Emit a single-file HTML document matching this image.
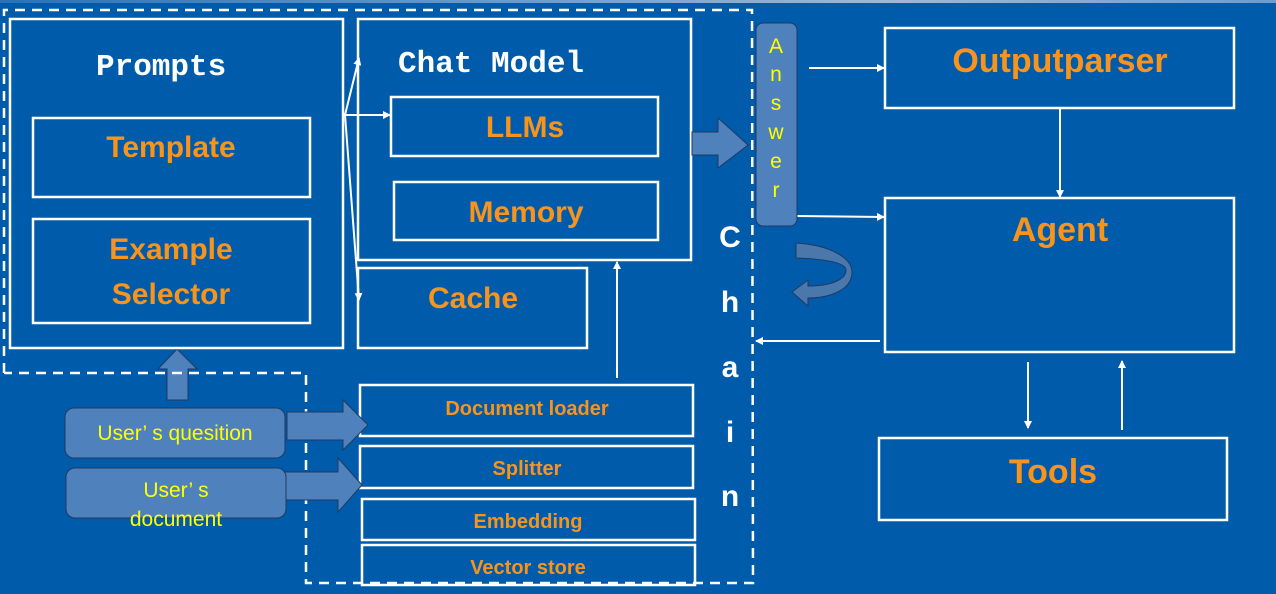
<!DOCTYPE html>
<html><head><meta charset="utf-8"><style>
html,body{margin:0;padding:0;background:#005bab;}
svg{display:block}
.o{font-family:"Liberation Sans",sans-serif;font-weight:bold;fill:#f7941d;text-anchor:middle}
.w{font-family:"Liberation Mono",monospace;font-weight:bold;fill:#fff}
.y{font-family:"Liberation Sans",sans-serif;fill:#ffff00;text-anchor:middle}
</style></head><body>
<svg width="1276" height="594" viewBox="0 0 1276 594" xmlns="http://www.w3.org/2000/svg">
<defs>
<linearGradient id="tg" x1="0" x2="1"><stop offset="0" stop-color="#2a72b8"/><stop offset="0.7" stop-color="#9fb9d6"/><stop offset="1" stop-color="#6f9ccc"/></linearGradient>
<marker id="ah" markerWidth="8" markerHeight="8" refX="7" refY="4" orient="auto" markerUnits="userSpaceOnUse"><path d="M0,0 L8,4 L0,8 z" fill="#fff"/></marker>
</defs>
<rect width="1276" height="594" fill="#005bab"/>
<rect width="1276" height="3" fill="url(#tg)"/>
<g fill="#4f81bd" stroke="#1f3a60" stroke-width="1">
<path d="M167,400 L167,369 L158,369 L177,349 L197,369 L188,369 L188,400 z"/>
</g>
<g fill="none" stroke="#fff" stroke-width="2.5">
<path d="M4,373 L4,10 L752,10 L753,583 L306,583 L306,373 L4,373" stroke-dasharray="10,7"/>
<rect x="10" y="19" width="333" height="329"/>
<rect x="33" y="118" width="277" height="79"/>
<rect x="33" y="219" width="277" height="104"/>
<rect x="358" y="19" width="333" height="241"/>
<rect x="391" y="97" width="267" height="59"/>
<rect x="394" y="182" width="264" height="58"/>
<rect x="358" y="268" width="229" height="80"/>
<rect x="360" y="385" width="333" height="51"/>
<rect x="360" y="446" width="333" height="42"/>
<rect x="362" y="499" width="333" height="41"/>
<rect x="362" y="545" width="333" height="40"/>
<rect x="885" y="28" width="349" height="80"/>
<rect x="885" y="198" width="349" height="154"/>
<rect x="879" y="438" width="348" height="82"/>
</g>
<g stroke="#fff" stroke-width="2" fill="none" marker-end="url(#ah)">
<line x1="345" y1="115" x2="359" y2="58"/>
<line x1="343" y1="115" x2="390" y2="115"/>
<line x1="345" y1="115" x2="359" y2="300"/>
<line x1="617" y1="378" x2="617" y2="262"/>
<line x1="809" y1="68" x2="884" y2="68"/>
<line x1="797" y1="216" x2="884" y2="217"/>
<line x1="1060" y1="108" x2="1060" y2="197"/>
<line x1="880" y1="341" x2="756" y2="341"/>
<line x1="1028" y1="362" x2="1028" y2="428"/>
<line x1="1122" y1="430" x2="1122" y2="361"/>
</g>
<g fill="#4f81bd" stroke="#1f3a60" stroke-width="1">
<path d="M287,412 L343,412 L343,400 L368,425 L343,450 L343,440 L287,440 z"/>
<path d="M283,472 L338,472 L338,458 L362,485 L338,512 L338,500 L283,500 z"/>
<path d="M692,132 L718,132 L718,118 L748,145 L718,168 L718,155 L692,155 z"/>
<rect x="65" y="408" width="220" height="50" rx="9"/>
<rect x="66" y="468" width="220" height="50" rx="9"/>
<rect x="756" y="23" width="41" height="203" rx="7"/>
<path d="M796,243 C830,245 852,258 852,272 C852,290 830,298 808,298 L808,306 L792,292 L808,280 L808,286 C830,286 846,280 846,270 C846,263 826,259 796,258 z" fill="#4a78ad"/>
</g>
<text class="w" x="96" y="75" font-size="31">Prompts</text>
<text class="w" x="398" y="72" font-size="31">Chat Model</text>
<text class="o" x="171" y="157" font-size="30">Template</text>
<text class="o" x="171" y="259" font-size="30">Example</text>
<text class="o" x="171" y="304" font-size="30">Selector</text>
<text class="o" x="525" y="137" font-size="30">LLMs</text>
<text class="o" x="526" y="222" font-size="30">Memory</text>
<text class="o" x="473" y="308" font-size="30">Cache</text>
<text class="o" x="527" y="415" font-size="20">Document loader</text>
<text class="o" x="527" y="475" font-size="20">Splitter</text>
<text class="o" x="528" y="528" font-size="20">Embedding</text>
<text class="o" x="528" y="574" font-size="20">Vector store</text>
<text class="o" x="1060" y="72" font-size="34">Outputparser</text>
<text class="o" x="1060" y="241" font-size="34">Agent</text>
<text class="o" x="1053" y="483" font-size="34">Tools</text>
<text class="y" x="175" y="440" font-size="21">User’ s quesition</text>
<text class="y" x="176" y="497" font-size="21">User’ s</text>
<text class="y" x="176" y="526" font-size="21">document</text>
<g class="y" font-size="21">
<text x="776" y="53">A</text><text x="776" y="81">n</text><text x="776" y="110">s</text>
<text x="776" y="139">w</text><text x="776" y="168">e</text><text x="776" y="197">r</text>
</g>
<g font-family="Liberation Sans,sans-serif" font-weight="bold" font-size="30" fill="#fff" text-anchor="middle">
<text x="730" y="247">C</text><text x="730" y="312">h</text><text x="730" y="377">a</text>
<text x="730" y="442">i</text><text x="730" y="506">n</text>
</g>
</svg>
</body></html>
